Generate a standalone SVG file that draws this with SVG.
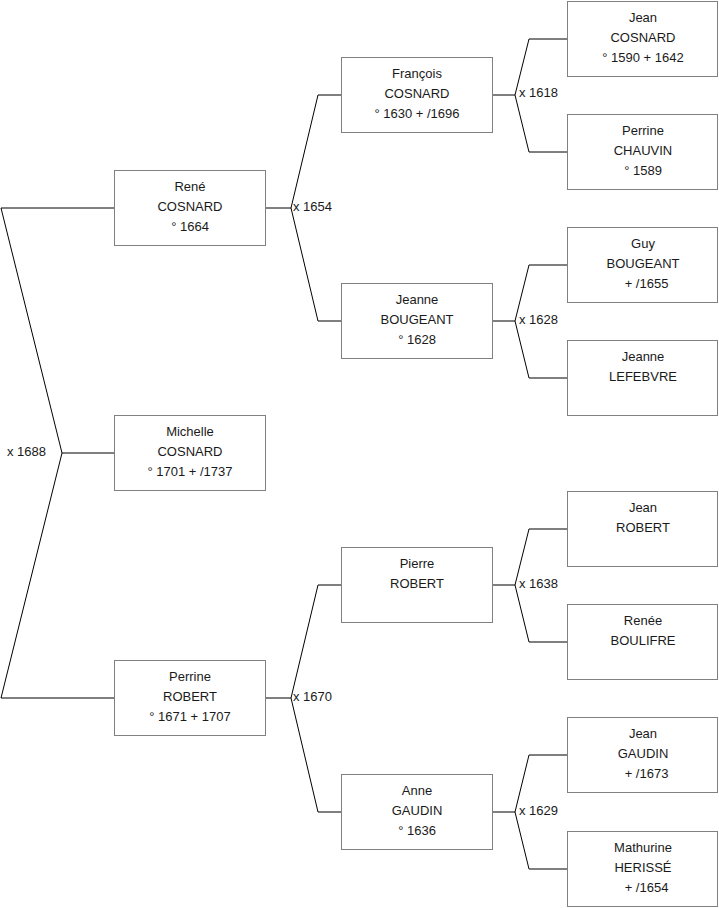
<svg xmlns="http://www.w3.org/2000/svg" width="719" height="908" viewBox="0 0 719 908">
<style>
.b{fill:#fff;stroke:#808080;stroke-width:1}
.t{font-family:"Liberation Sans",Arial,sans-serif;font-size:13px;fill:#1a1a1a;text-anchor:middle}
.l{font-family:"Liberation Sans",Arial,sans-serif;font-size:13px;fill:#1a1a1a}
.c{fill:none;stroke:#000;stroke-width:1}
</style>
<rect width="719" height="908" fill="#fff"/>
<g id="connectors">
<path class="c" d="M114,208 H1 L62,453 L1,698 H114 M62,453 H114"/>
<path class="c" d="M265.5,208 H291 L318,95 H341 M291,208 L318,321 H341"/>
<path class="c" d="M265.5,698 H291 L318,585 H341 M291,698 L318,812 H341"/>
<path class="c" d="M492.5,95 H515 L529,39 H567 M515,95 L529,152 H567"/>
<path class="c" d="M492.5,321 H515 L529,265 H567 M515,321 L529,378 H567"/>
<path class="c" d="M492.5,585 H515 L529,529 H567 M515,585 L529,642 H567"/>
<path class="c" d="M492.5,812 H515 L529,755 H567 M515,812 L529,869 H567"/>
<text class="l" x="7" y="456">x 1688</text>
<text class="l" x="293" y="211">x 1654</text>
<text class="l" x="293" y="701">x 1670</text>
<text class="l" x="519" y="97">x 1618</text>
<text class="l" x="519" y="324">x 1628</text>
<text class="l" x="519" y="588">x 1638</text>
<text class="l" x="519" y="815">x 1629</text>
</g>
<g id="rene"><rect class="b" x="114.5" y="170.5" width="151" height="75"/><text class="t" x="190" y="191">René</text><text class="t" x="190" y="211">COSNARD</text><text class="t" x="190" y="231">° 1664</text></g>
<g id="michelle"><rect class="b" x="114.5" y="415.5" width="151" height="75"/><text class="t" x="190" y="436">Michelle</text><text class="t" x="190" y="456">COSNARD</text><text class="t" x="190" y="476">° 1701 + /1737</text></g>
<g id="perrine-robert"><rect class="b" x="114.5" y="660.5" width="151" height="75"/><text class="t" x="190" y="681">Perrine</text><text class="t" x="190" y="701">ROBERT</text><text class="t" x="190" y="721">° 1671 + 1707</text></g>
<g id="francois"><rect class="b" x="341.5" y="57.5" width="151" height="75"/><text class="t" x="417" y="78">François</text><text class="t" x="417" y="98">COSNARD</text><text class="t" x="417" y="118">° 1630 + /1696</text></g>
<g id="jeanne-bougeant"><rect class="b" x="341.5" y="283.5" width="151" height="75"/><text class="t" x="417" y="304">Jeanne</text><text class="t" x="417" y="324">BOUGEANT</text><text class="t" x="417" y="344">° 1628</text></g>
<g id="pierre"><rect class="b" x="341.5" y="547.5" width="151" height="75"/><text class="t" x="417" y="568">Pierre</text><text class="t" x="417" y="588">ROBERT</text></g>
<g id="anne"><rect class="b" x="341.5" y="774.5" width="151" height="75"/><text class="t" x="417" y="795">Anne</text><text class="t" x="417" y="815">GAUDIN</text><text class="t" x="417" y="835">° 1636</text></g>
<g id="jean-cosnard"><rect class="b" x="567.5" y="1.5" width="150" height="75"/><text class="t" x="643" y="22">Jean</text><text class="t" x="643" y="42">COSNARD</text><text class="t" x="643" y="62">° 1590 + 1642</text></g>
<g id="perrine-chauvin"><rect class="b" x="567.5" y="114.5" width="150" height="75"/><text class="t" x="643" y="135">Perrine</text><text class="t" x="643" y="155">CHAUVIN</text><text class="t" x="643" y="175">° 1589</text></g>
<g id="guy"><rect class="b" x="567.5" y="227.5" width="150" height="75"/><text class="t" x="643" y="248">Guy</text><text class="t" x="643" y="268">BOUGEANT</text><text class="t" x="646.5" y="288">+ /1655</text></g>
<g id="jeanne-lefebvre"><rect class="b" x="567.5" y="340.5" width="150" height="75"/><text class="t" x="643" y="361">Jeanne</text><text class="t" x="643" y="381">LEFEBVRE</text></g>
<g id="jean-robert"><rect class="b" x="567.5" y="491.5" width="150" height="75"/><text class="t" x="643" y="512">Jean</text><text class="t" x="643" y="532">ROBERT</text></g>
<g id="renee"><rect class="b" x="567.5" y="604.5" width="150" height="75"/><text class="t" x="643" y="625">Renée</text><text class="t" x="643" y="645">BOULIFRE</text></g>
<g id="jean-gaudin"><rect class="b" x="567.5" y="717.5" width="150" height="75"/><text class="t" x="643" y="738">Jean</text><text class="t" x="643" y="758">GAUDIN</text><text class="t" x="646.5" y="778">+ /1673</text></g>
<g id="mathurine"><rect class="b" x="567.5" y="831.5" width="150" height="75"/><text class="t" x="643" y="852">Mathurine</text><text class="t" x="643" y="872">HERISSÉ</text><text class="t" x="646.5" y="892">+ /1654</text></g>
</svg>
